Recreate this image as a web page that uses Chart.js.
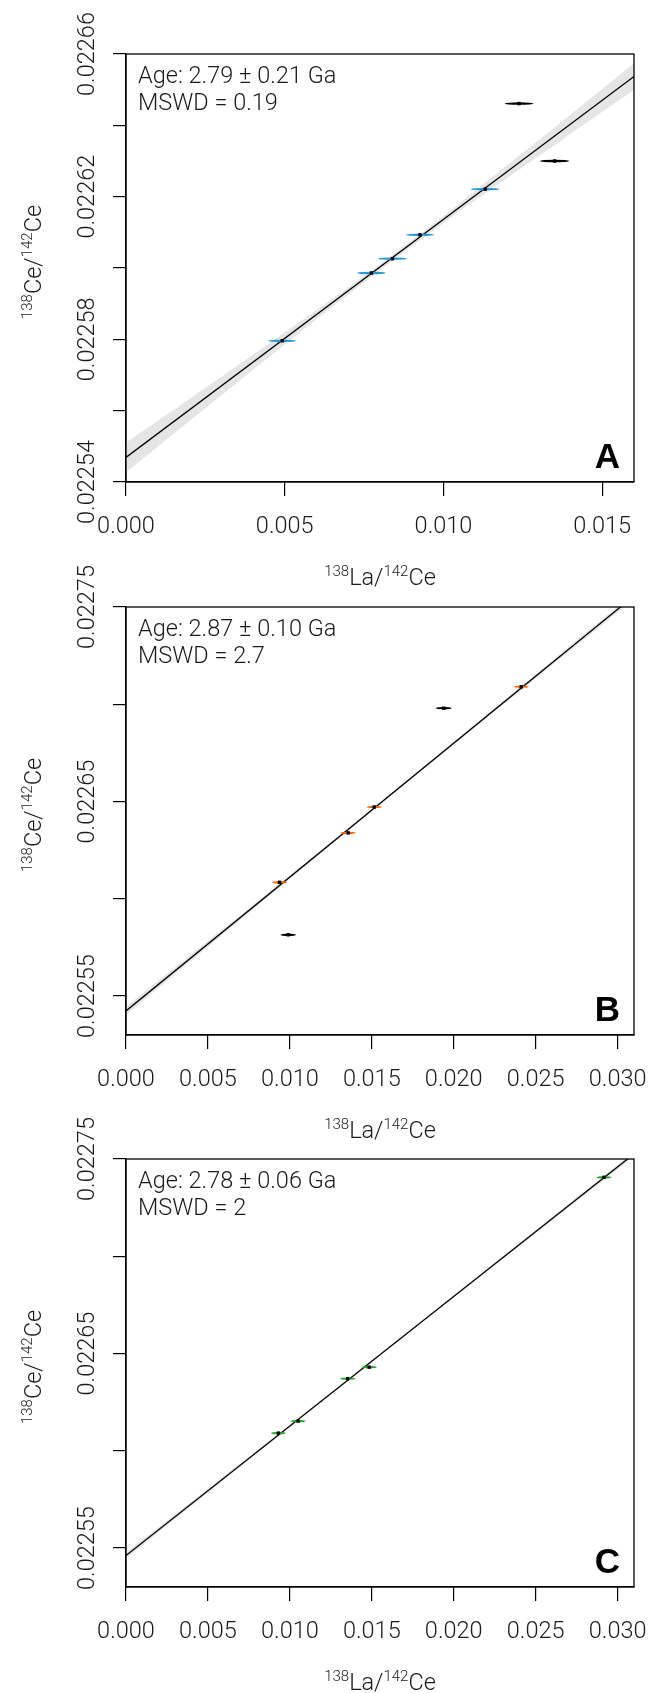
<!DOCTYPE html>
<html>
<head>
<meta charset="utf-8">
<script src="https://cdn.jsdelivr.net/npm/chart.js@4.4.1/dist/chart.umd.min.js"></script>
<style>
  html, body { margin: 0; padding: 0; background: #fff; }
  #wrap { position: relative; width: 649px; height: 1693px; overflow: hidden; }
  .panel { position: absolute; left: 0; width: 649px; height: 588px; }
</style>
</head>
<body>
<div id="wrap">
  <div class="panel" style="top:0px"><canvas id="chartA" width="649" height="588"></canvas></div>
  <div class="panel" style="top:553px"><canvas id="chartB" width="649" height="588"></canvas></div>
  <div class="panel" style="top:1105px"><canvas id="chartC" width="649" height="588"></canvas></div>
</div>
<script>
// ---- panel A ----
const xA = [0.00492, 0.00773, 0.00839, 0.00926, 0.01131, 0.01238, 0.01350];
const yA = [0.0225796, 0.0225986, 0.0226026, 0.0226093, 0.0226221, 0.0226461, 0.0226300];
const xErrA = [0.00045, 0.00045, 0.00045, 0.00045, 0.00045, 0.00046, 0.00046];
const yErrA = [3.5e-7, 3.5e-7, 3.5e-7, 3.5e-7, 3.5e-7, 3.5e-7, 3.5e-7];
const usedA = [true, true, true, true, true, false, false];
const fitXA = [0, 0.016];
const fitYA = [0.0225469, 0.0226537];
const bandXA = [0, 0.002, 0.004, 0.006, 0.008, 0.010, 0.012, 0.014, 0.016];
const bandUpA = [0.0225511, 0.0225633, 0.0225757, 0.0225882, 0.0226011, 0.0226146, 0.0226288, 0.0226430, 0.0226574];
const bandLoA = [0.0225427, 0.0225571, 0.0225715, 0.0225856, 0.0225994, 0.0226126, 0.0226252, 0.0226376, 0.0226500];
const xTicksA = [0, 0.005, 0.010, 0.015];
const yTicksA = [0.02254, 0.02256, 0.02258, 0.02260, 0.02262, 0.02264, 0.02266];
const yLabelsA = ['0.02254', '', '0.02258', '', '0.02262', '', '0.02266'];

// ---- panel B ----
const xB = [0.00937, 0.01356, 0.01515, 0.02412, 0.01939, 0.00990];
const yB = [0.0226085, 0.0226339, 0.0226472, 0.0227090, 0.0226980, 0.0225815];
const xErrB = [0.00047, 0.00047, 0.00047, 0.00047, 0.00048, 0.00048];
const yErrB = [6e-7, 6e-7, 6e-7, 6e-7, 6e-7, 6e-7];
const usedB = [true, true, true, true, false, false];
const fitXB = [0, 0.031];
const fitYB = [0.0225424, 0.0227557];
const bandXB = [0, 0.005, 0.010, 0.015, 0.020, 0.025, 0.031];
const bandUpB = [0.0225446, 0.0225783, 0.0226121, 0.0226461, 0.0226807, 0.0227155, 0.0227574];
const bandLoB = [0.0225402, 0.0225753, 0.0226103, 0.0226451, 0.0226793, 0.0227133, 0.0227540];

// ---- panel C ----
const xC = [0.00930, 0.01050, 0.01353, 0.01484, 0.02917];
const yC = [0.0226091, 0.0226153, 0.0226371, 0.0226430, 0.0227406];
const xErrC = [0.00046, 0.00046, 0.00046, 0.00046, 0.00046];
const yErrC = [6e-7, 6e-7, 6e-7, 6e-7, 6e-7];
const usedC = [true, true, true, true, true];
const fitXC = [0, 0.031];
const fitYC = [0.0225462, 0.0227526];
const bandXC = [0, 0.005, 0.010, 0.015, 0.020, 0.025, 0.031];
const bandUpC = [0.0225477, 0.0225805, 0.0226134, 0.0226465, 0.0226799, 0.0227134, 0.0227538];
const bandLoC = [0.0225447, 0.0225785, 0.0226122, 0.0226457, 0.0226789, 0.0227118, 0.0227514];

// B and C share the same axes
const xTicksBC = [0, 0.005, 0.010, 0.015, 0.020, 0.025, 0.030];
const yTicksBC = [0.02255, 0.02260, 0.02265, 0.02270, 0.02275];
const yLabelsBC = ['0.02255', '', '0.02265', '', '0.02275'];

const FONT = 'Roboto, "Liberation Sans", sans-serif';
const FS = 23.5;
const TEXT = '#1a1a1a';

function pts(xs, ys) {
  return xs.map((x, i) => ({ x: x, y: ys[i] }));
}

// draws "138La/142Ce" style text with raised mass numbers, centred on 0
function drawIsotopeRatio(ctx, parts) {
  const big = '300 ' + FS + 'px ' + FONT, small = '300 15px ' + FONT;
  let w = 0;
  parts.forEach(p => { ctx.font = p.sup ? small : big; w += ctx.measureText(p.t).width; });
  let x = -w / 2;
  ctx.textAlign = 'left';
  ctx.textBaseline = 'alphabetic';
  parts.forEach(p => {
    ctx.font = p.sup ? small : big;
    ctx.fillText(p.t, x, p.sup ? -9.5 : 0);
    x += ctx.measureText(p.t).width;
  });
}

const decorations = {
  id: 'decorations',
  beforeDatasetDraw(chart, args) {
    // error ellipses go underneath the centre dots
    if (args.index !== 3) return;
    const cfg = chart.options.plugins.decorations;
    const xs = chart.scales.x, ys = chart.scales.y, ctx = chart.ctx, a = chart.chartArea;
    ctx.save();
    ctx.beginPath();
    ctx.rect(a.left, a.top, a.right - a.left, a.bottom - a.top);
    ctx.clip();
    cfg.xv.forEach((x, i) => {
      const cx = xs.getPixelForValue(x), cy = ys.getPixelForValue(cfg.yv[i]);
      const rx = Math.abs(xs.getPixelForValue(x + cfg.xErr[i]) - cx);
      const ry = Math.max(1.2, Math.abs(ys.getPixelForValue(cfg.yv[i] + cfg.yErr[i]) - cy));
      ctx.beginPath();
      ctx.ellipse(cx, cy, rx, ry, 0, 0, Math.PI * 2);
      ctx.fillStyle = cfg.used[i] ? cfg.color : '#000';
      ctx.fill();
    });
    ctx.restore();
  },
  afterDraw(chart) {
    const cfg = chart.options.plugins.decorations;
    const ctx = chart.ctx, a = chart.chartArea, ys = chart.scales.y;
    ctx.save();
    // frame
    ctx.strokeStyle = '#000';
    ctx.lineWidth = 1.3;
    ctx.strokeRect(a.left, a.top, a.right - a.left, a.bottom - a.top);
    // rotated y tick labels
    ctx.fillStyle = TEXT;
    ctx.font = '300 ' + FS + 'px ' + FONT;
    ys.ticks.forEach((t, i) => {
      const lab = cfg.yLabels[i];
      if (!lab) return;
      ctx.save();
      ctx.translate(a.left - 32, ys.getPixelForValue(t.value));
      ctx.rotate(-Math.PI / 2);
      ctx.textAlign = 'center';
      ctx.textBaseline = 'alphabetic';
      ctx.fillText(lab, 0, 0);
      ctx.restore();
    });
    // axis titles
    ctx.save();
    ctx.translate((a.left + a.right) / 2, a.bottom + 103);
    drawIsotopeRatio(ctx, [{ t: '138', sup: true }, { t: 'La/', sup: false }, { t: '142', sup: true }, { t: 'Ce', sup: false }]);
    ctx.restore();
    ctx.save();
    ctx.translate(41, (a.top + a.bottom) / 2 - 6);
    ctx.rotate(-Math.PI / 2);
    drawIsotopeRatio(ctx, [{ t: '138', sup: true }, { t: 'Ce/', sup: false }, { t: '142', sup: true }, { t: 'Ce', sup: false }]);
    ctx.restore();
    // age and MSWD
    ctx.font = '300 ' + FS + 'px ' + FONT;
    ctx.textAlign = 'left';
    ctx.textBaseline = 'alphabetic';
    ctx.fillText(cfg.age, a.left + 12, a.top + 29);
    ctx.fillText(cfg.mswd, a.left + 12, a.top + 55.5);
    // panel letter
    ctx.fillStyle = '#000';
    ctx.font = 'bold 35px "Liberation Sans", Arial, sans-serif';
    ctx.textAlign = 'right';
    ctx.fillText(cfg.letter, a.right - 14, a.bottom - 14);
    ctx.restore();
  }
};

function makePanel(id, p) {
  const ctx = document.getElementById(id).getContext('2d');
  return new Chart(ctx, {
    type: 'scatter',
    data: {
      datasets: [
        {
          // lower edge of the confidence band (drawn at the back)
          type: 'line',
          order: 4,
          data: pts(p.bandX, p.bandLo),
          borderColor: 'transparent',
          borderWidth: 0,
          pointRadius: 0,
          tension: 0.3,
          fill: false
        },
        {
          type: 'line',
          order: 3,
          data: pts(p.bandX, p.bandUp),
          borderColor: 'transparent',
          borderWidth: 0,
          pointRadius: 0,
          tension: 0.3,
          backgroundColor: '#e5e5e5',
          fill: '-1'
        },
        {
          type: 'line',
          order: 2,
          data: pts(p.fitX, p.fitY),
          borderColor: '#000',
          borderWidth: 1.3,
          pointRadius: 0,
          fill: false
        },
        {
          order: 1,
          data: pts(p.xv, p.yv),
          pointStyle: 'rect',
          pointRadius: 2.4,
          backgroundColor: '#000',
          borderWidth: 0
        }
      ]
    },
    options: {
      responsive: false,
      animation: false,
      events: [],
      layout: { padding: { top: 54, right: 15, left: 0, bottom: 0 }, autoPadding: false },
      scales: {
        x: {
          type: 'linear',
          min: 0,
          max: p.xMax,
          afterBuildTicks: (s) => { s.ticks = p.xTicks.map(v => ({ value: v })); },
          afterFit: (s) => { s.height = 106; s.paddingLeft = 0; s.paddingRight = 0; },
          grid: { drawOnChartArea: false, drawTicks: true, tickLength: 14, color: '#000', lineWidth: 1.2 },
          border: { display: true, color: '#000', width: 1.3 },
          ticks: {
            autoSkip: false,
            maxRotation: 0,
            padding: 17,
            color: TEXT,
            font: { family: FONT, size: FS, weight: 300 },
            callback: (v) => Number(v).toFixed(3)
          }
        },
        y: {
          type: 'linear',
          min: p.yMin,
          max: p.yMax,
          afterBuildTicks: (s) => { s.ticks = p.yTicks.map(v => ({ value: v })); },
          afterFit: (s) => { s.width = 126; s.paddingTop = 0; s.paddingBottom = 0; },
          grid: { drawOnChartArea: false, drawTicks: true, tickLength: 13, color: '#000', lineWidth: 1.2 },
          border: { display: true, color: '#000', width: 1.3 },
          ticks: { display: false }
        }
      },
      plugins: {
        legend: { display: false },
        tooltip: { enabled: false },
        decorations: {
          xv: p.xv, yv: p.yv, xErr: p.xErr, yErr: p.yErr, used: p.used, color: p.color,
          yLabels: p.yLabels, age: p.age, mswd: p.mswd, letter: p.letter
        }
      }
    },
    plugins: [decorations]
  });
}

function init() {
  makePanel('chartA', {
    xv: xA, yv: yA, xErr: xErrA, yErr: yErrA, used: usedA, color: '#2b9ad2',
    fitX: fitXA, fitY: fitYA, bandX: bandXA, bandUp: bandUpA, bandLo: bandLoA,
    xMax: 0.016, yMin: 0.02254, yMax: 0.02266,
    xTicks: xTicksA, yTicks: yTicksA, yLabels: yLabelsA,
    age: 'Age: 2.79 ± 0.21 Ga', mswd: 'MSWD = 0.19', letter: 'A'
  });
  makePanel('chartB', {
    xv: xB, yv: yB, xErr: xErrB, yErr: yErrB, used: usedB, color: '#ff6610',
    fitX: fitXB, fitY: fitYB, bandX: bandXB, bandUp: bandUpB, bandLo: bandLoB,
    xMax: 0.031, yMin: 0.02253, yMax: 0.02275,
    xTicks: xTicksBC, yTicks: yTicksBC, yLabels: yLabelsBC,
    age: 'Age: 2.87 ± 0.10 Ga', mswd: 'MSWD = 2.7', letter: 'B'
  });
  makePanel('chartC', {
    xv: xC, yv: yC, xErr: xErrC, yErr: yErrC, used: usedC, color: '#27a127',
    fitX: fitXC, fitY: fitYC, bandX: bandXC, bandUp: bandUpC, bandLo: bandLoC,
    xMax: 0.031, yMin: 0.02253, yMax: 0.02275,
    xTicks: xTicksBC, yTicks: yTicksBC, yLabels: yLabelsBC,
    age: 'Age: 2.78 ± 0.06 Ga', mswd: 'MSWD = 2', letter: 'C'
  });
}

if (document.fonts && document.fonts.load) {
  Promise.all([
    document.fonts.load('300 23.5px Roboto'),
    document.fonts.load('bold 35px "Liberation Sans"')
  ]).then(init, init);
} else {
  init();
}
</script>
</body>
</html>
